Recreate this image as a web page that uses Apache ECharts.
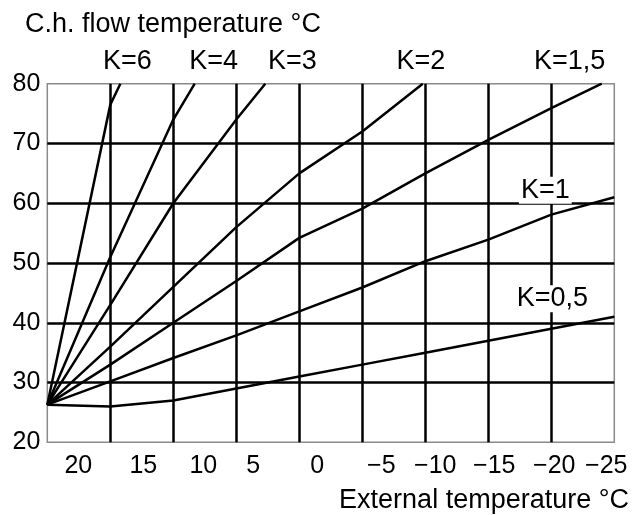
<!DOCTYPE html>
<html>
<head>
<meta charset="utf-8">
<script src="https://cdn.jsdelivr.net/npm/echarts@6/dist/echarts.min.js"></script>
<style>
  html, body { margin: 0; padding: 0; background: #fff; }
  #chart { width: 634px; height: 515px; }
</style>
</head>
<body>
<div id="chart"></div>
<script>
// Heating curves: flow temperature vs. external temperature for each slope K
const curveNames = ['K=6', 'K=4', 'K=3', 'K=2', 'K=1,5', 'K=1', 'K=0,5'];
const k6  = [[20, 26.3], [15, 76.5], [14.2, 80]];
const k4  = [[20, 26.3], [15, 51], [10, 74], [8.3, 80]];
const k3  = [[20, 26.3], [15, 43], [10, 60], [5, 74], [2.7, 80]];
const k2  = [[20, 26.3], [15, 36], [10, 46], [5, 56], [0, 65], [-5, 72], [-9.8, 80]];
const k15 = [[20, 26.3], [15, 33], [10, 40], [5, 47], [0, 54.2], [-5, 59.1], [-10, 65], [-15, 70.6], [-20, 75.9], [-24, 80]];
const k1  = [[20, 26.3], [15, 30.2], [10, 34.1], [5, 37.9], [0, 41.9], [-5, 45.9], [-10, 50.3], [-15, 53.9], [-20, 58.1], [-25, 61]];
const k05 = [[20, 26.3], [15, 26], [10, 27], [5, 29], [0, 31], [-5, 33], [-10, 35], [-15, 37], [-20, 39], [-25, 41]];
const curves = [k6, k4, k3, k2, k15, k1, k05];

// Axis ranges and tick labels
const xTicks = [20, 15, 10, 5, 0, -5, -10, -15, -20, -25];
const yTicks = [20, 30, 40, 50, 60, 70, 80];

// Label placement (pixel offsets from each curve's last point)
const labelOffsets = [[7, -22], [19, -22], [27, -22], [-2, -22], [-32, -22], [-69, -7], [-62, -18]];
const labelBoxed = [false, false, false, false, false, true, true];
// Horizontal nudge of each x tick label from its grid line
const xLabelShift = [31, 33, 30, 17, 18, 19, 10, 6, 3, -8];

const FONT = "'Liberation Sans', Arial, Helvetica, sans-serif";
const FS = 27;      // titles and curve labels
const TICK_FS = 25; // axis tick labels

function fmtTick(v) {
  return v < 0 ? '\u2212' + (-v) : String(v);
}

const xRich = {};
xLabelShift.forEach((s, i) => {
  xRich['s' + i] = {
    fontSize: TICK_FS, fontFamily: FONT, color: '#000',
    padding: s >= 0 ? [0, 0, 0, 2 * s] : [0, -2 * s, 0, 0]
  };
});

const series = curves.map((pts, i) => {
  const data = pts.map((p, j) => {
    if (j !== pts.length - 1) return p;
    return {
      value: p,
      label: {
        show: true,
        position: 'inside',
        offset: labelOffsets[i],
        formatter: curveNames[i],
        fontSize: FS,
        fontFamily: FONT,
        color: '#000',
        backgroundColor: labelBoxed[i] ? '#fff' : 'transparent',
        padding: labelBoxed[i] ? [0, 2] : 0
      }
    };
  });
  return {
    name: curveNames[i],
    type: 'line',
    data: data,
    symbol: 'circle',
    symbolSize: 0,
    showSymbol: true,
    smooth: false,
    lineStyle: { color: '#000', width: 2.5 },
    itemStyle: { color: '#000' },
    z: 3,
    silent: true,
    animation: false
  };
});

const chart = echarts.init(document.getElementById('chart'), null, { renderer: 'canvas' });
chart.setOption({
  backgroundColor: '#fff',
  animation: false,
  title: [
    {
      text: 'C.h. flow temperature \u00B0C',
      left: 20, top: 6,
      textStyle: { fontSize: FS, fontWeight: 'normal', fontFamily: FONT, color: '#000' }
    },
    {
      text: 'External temperature \u00B0C',
      right: 0, top: 482,
      textStyle: { fontSize: FS, fontWeight: 'normal', fontFamily: FONT, color: '#000' }
    }
  ],
  grid: {
    left: 47.3, right: 19.7, top: 83.7, bottom: 72.7,
    show: true, borderColor: '#8a8a8a', borderWidth: 1.5, backgroundColor: 'transparent'
  },
  xAxis: {
    type: 'value',
    inverse: true,
    min: xTicks[xTicks.length - 1],
    max: xTicks[0],
    interval: 5,
    axisLine: { show: false },
    axisTick: { show: false },
    splitLine: { show: true, showMinLine: false, showMaxLine: false, lineStyle: { color: '#000', width: 2.5 } },
    axisLabel: {
      show: true,
      margin: 11,
      formatter: function (v) {
        const i = xTicks.indexOf(v);
        return '{s' + i + '|' + fmtTick(v) + '}';
      },
      rich: xRich,
      fontSize: TICK_FS, fontFamily: FONT, color: '#000'
    }
  },
  yAxis: {
    type: 'value',
    min: yTicks[0],
    max: yTicks[yTicks.length - 1],
    interval: 10,
    axisLine: { show: false },
    axisTick: { show: false },
    splitLine: { show: true, showMinLine: false, showMaxLine: false, lineStyle: { color: '#000', width: 2.5 } },
    axisLabel: { margin: 7, fontSize: TICK_FS, fontFamily: FONT, color: '#000' }
  },
  series: series
});
</script>
</body>
</html>
